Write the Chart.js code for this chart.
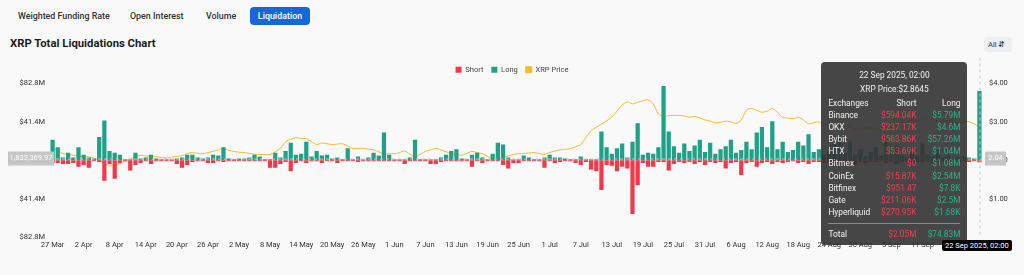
<!DOCTYPE html>
<html>
<head>
<meta charset="utf-8">
<script src="https://cdn.jsdelivr.net/npm/chart.js@4.4.1/dist/chart.umd.min.js"></script>
<style>
  body { margin: 0; background: #f9f9fa; font-family: Roboto, sans-serif; color: #222; width: 1024px; height: 275px; overflow: hidden; position: relative; }
  .tabs { position: absolute; left: 0; top: 7px; height: 18px; }
  .tab { position: absolute; top: 0; height: 18px; line-height: 18px; font-size: 8.9px; font-weight: 500; color: #333; white-space: nowrap; }
  .tab.active { background: #1467d6; color: #fff; border-radius: 4px; text-align: center; }
  h1 { position: absolute; left: 10px; top: 37px; margin: 0; font-size: 11.3px; font-weight: 700; color: #1c1c1c; }
  .sel { position: absolute; left: 984px; top: 37px; width: 28px; height: 15px; background: #eceef1; border-radius: 3px; font-size: 7.5px; line-height: 15px; padding-left: 4px; box-sizing: border-box; color: #333; }
  #wrap { position: absolute; left: 0; top: 58px; width: 1024px; height: 200px; }
  #tip { position: absolute; display: none; width: 146px; box-sizing: border-box; padding: 6px 7px 5px; background: rgba(50,50,50,0.9); border-radius: 4px; color: #f2f2f2; font-size: 8.3px; }
  #tip .hd { text-align: center; line-height: 14px; }
  #tip .grid { display: grid; grid-template-columns: 48px 40px 44px; line-height: 12.1px; margin-top: 1px; }
  #tip .r { text-align: right; }
  #tip .s { color: #f0414f; }
  #tip .l { color: #28b58a; }
  #tip .sep { grid-column: 1 / 4; border-top: 1px solid #8a8a8a; margin: 5px 0 4px; }
  #dateTag { position: absolute; background: #000; color: #fff; font-size: 7.5px; line-height: 11px; padding: 0 3px; border-radius: 2px; white-space: nowrap; }
</style>
</head>
<body>
<div class="tabs">
  <div class="tab" style="left:18px">Weighted Funding Rate</div>
  <div class="tab" style="left:130px">Open Interest</div>
  <div class="tab" style="left:206px">Volume</div>
  <div class="tab active" style="left:250px;width:60px">Liquidation</div>
</div>
<h1>XRP Total Liquidations Chart</h1>
<div class="sel">All &#8693;</div>
<div id="wrap"><canvas id="chart"></canvas><div id="tip"></div><div id="dateTag"></div></div>
<script>
// daily liquidations in $M, first day 27 Mar 2025
const longValues = [
  22, 14, 3, 8, 3, 14, 6, 3, 2, 25, 43, 10, 8, 6, 1, 1, 8, 2, 3, 6,
  2, 1, 1, 1, 2, 3, 6, 6, 3, 2, 3, 6, 5, 14, 2, 1, 2, 2, 3, 6,
  4, 1, 1, 8, 3, 10, 19, 6, 7, 20, 4, 10, 5, 6, 2, 3, 1, 13, 1, 4,
  1, 3, 8, 5, 30, 6, 1, 1, 1, 3, 22, 1, 1, 1, 1, 3, 6, 10, 12, 2,
  1, 6, 8, 3, 1, 7, 19, 17, 3, 1, 1, 5, 3, 1, 1, 3, 6, 3, 3, 2,
  1, 1, 4, 1, 1, 1, 31, 14, 7, 13, 18, 3, 20, 40, 6, 8, 7, 14, 80, 31,
  15, 8, 18, 10, 16, 22, 9, 19, 7, 12, 15, 22, 8, 11, 20, 12, 30, 36, 14, 42,
  12, 20, 9, 11, 20, 16, 28, 9, 12, 6, 10, 18, 24, 8, 20, 6, 12, 4, 9, 14,
  5, 22, 7, 16, 6, 3, 10, 5, 18, 6, 4, 12, 3, 5, 2, 3, 4, 3, 2, 74.83
];
const shortValues = [
  3, 3, 4, 4, 3, 7, 5, 8, 1, 2, 22, 4, 20, 3, 1, 11, 5, 3, 1, 4,
  1, 1, 1, 1, 4, 8, 5, 2, 1, 1, 3, 3, 1, 2, 1, 1, 1, 1, 1, 1,
  1, 1, 8, 8, 4, 2, 12, 3, 1, 3, 1, 1, 3, 1, 1, 3, 1, 1, 1, 2,
  1, 1, 1, 1, 1, 1, 1, 1, 4, 1, 1, 1, 1, 4, 4, 2, 1, 1, 1, 1,
  1, 7, 1, 3, 1, 1, 1, 5, 9, 3, 3, 1, 1, 1, 1, 8, 1, 3, 2, 1,
  1, 3, 5, 2, 10, 12, 32, 5, 6, 12, 7, 9, 58, 27, 3, 7, 7, 2, 2, 11,
  4, 2, 3, 2, 4, 2, 5, 2, 3, 2, 9, 3, 2, 16, 3, 2, 7, 3, 2, 4,
  2, 3, 2, 1, 3, 2, 4, 2, 2, 3, 2, 3, 4, 2, 3, 5, 2, 3, 2, 2,
  1, 3, 2, 4, 2, 1, 3, 2, 2, 1, 3, 2, 1, 2, 1, 2, 1, 2, 1, 2.05
];
const priceValues = [
  2.33, 2.25, 2.17, 2.15, 2.13, 2.11, 2.10, 2.09, 2.05, 2.00, 1.92, 1.85, 1.88, 1.91, 1.98, 2.04, 2.09, 2.13, 2.11, 2.10,
  2.09, 2.07, 2.06, 2.08, 2.10, 2.12, 2.17, 2.20, 2.18, 2.17, 2.20, 2.23, 2.27, 2.31, 2.26, 2.23, 2.21, 2.20, 2.18, 2.16,
  2.15, 2.15, 2.15, 2.22, 2.31, 2.48, 2.55, 2.59, 2.57, 2.56, 2.48, 2.41, 2.45, 2.43, 2.41, 2.42, 2.43, 2.37, 2.31, 2.31,
  2.31, 2.29, 2.27, 2.22, 2.17, 2.17, 2.17, 2.20, 2.24, 2.16, 2.09, 2.16, 2.23, 2.27, 2.31, 2.27, 2.22, 2.17, 2.15, 2.13,
  2.18, 2.23, 2.20, 2.17, 2.10, 2.04, 2.06, 2.07, 2.11, 2.15, 2.17, 2.18, 2.19, 2.20, 2.18, 2.15, 2.20, 2.24, 2.27, 2.29,
  2.30, 2.35, 2.41, 2.59, 2.77, 2.86, 2.94, 3.03, 3.12, 3.28, 3.44, 3.52, 3.47, 3.51, 3.55, 3.57, 3.47, 3.21, 3.15, 3.16,
  3.17, 3.17, 3.15, 3.12, 3.14, 3.10, 3.05, 3.02, 2.97, 2.99, 3.02, 3.00, 2.96, 3.05, 3.30, 3.35, 3.30, 3.25, 3.28, 3.35,
  3.25, 3.12, 3.10, 3.08, 3.12, 3.05, 2.95, 2.98, 3.00, 2.92, 2.98, 3.03, 3.00, 2.95, 2.87, 2.82, 2.80, 2.83, 2.85, 2.82,
  2.80, 2.83, 2.86, 2.89, 2.96, 3.00, 3.05, 3.02, 3.08, 3.10, 3.07, 3.03, 3.01, 3.04, 2.98, 2.96, 3.02, 3.00, 2.95, 2.8645
];
const leftTicks = [-82.8, -41.4, 0, 41.4, 82.8];
const rightTicks = [1, 2, 3, 4];

// exchange breakdown shown in the tooltip for the last day (USD)
const exchangeNames = ['Binance', 'OKX', 'Bybit', 'HTX', 'Bitmex', 'CoinEx', 'Bitfinex', 'Gate', 'Hyperliquid'];
const exchangeShort = [594040, 237170, 563860, 53690, 0, 15870, 951.47, 211060, 270950];
const exchangeLong = [5790000, 4600000, 57260000, 1040000, 1080000, 2540000, 7800, 2500000, 1680];
const crosshairValue = 1.83236997; // $M, horizontal crosshair position

const months = ['Jan', 'Feb', 'Mar', 'Apr', 'May', 'Jun', 'Jul', 'Aug', 'Sep', 'Oct', 'Nov', 'Dec'];
const startDay = Date.UTC(2025, 2, 27);
const dates = longValues.map((_, i) => new Date(startDay + i * 864e5));
const categories = dates.map(d => d.getUTCDate() + ' ' + months[d.getUTCMonth()]);
const lastIndex = categories.length - 1;

function fmtUsd(v) {
    if (v >= 1e6) return '$' + parseFloat((v / 1e6).toFixed(2)) + 'M';
    if (v >= 1e3) return '$' + parseFloat((v / 1e3).toFixed(2)) + 'K';
    return '$' + parseFloat(v.toFixed(2));
}

function tipDate(d) {
    return d.getUTCDate() + ' ' + months[d.getUTCMonth()] + ' ' + d.getUTCFullYear() + ', 02:00';
}

function externalTooltip(context) {
    const { tooltip } = context;
    const el = document.getElementById('tip');
    if (tooltip.opacity === 0) { el.style.display = 'none'; return; }
    const i = tooltip.dataPoints[0].dataIndex;
    let rows = '<div>Exchanges</div><div class="r">Short</div><div class="r">Long</div>';
    exchangeNames.forEach((n, k) => {
        rows += `<div>${n}</div><div class="r s">${fmtUsd(exchangeShort[k])}</div><div class="r l">${fmtUsd(exchangeLong[k])}</div>`;
    });
    rows += '<div class="sep"></div>';
    rows += `<div>Total</div><div class="r s">${fmtUsd(shortValues[i] * 1e6)}</div><div class="r l">${fmtUsd(longValues[i] * 1e6)}</div>`;
    el.innerHTML = `<div class="hd">${tipDate(dates[i])}</div><div class="hd">XRP Price:$${priceValues[i]}</div><div class="grid">${rows}</div>`;
    el.style.display = 'block';
    el.style.left = (tooltip.caretX - el.offsetWidth - 12) + 'px';
    el.style.top = '4px';
}

const crosshair = {
    id: 'crosshair',
    afterDraw(chart) {
        const { ctx, chartArea, scales } = chart;
        const x = scales.x.getPixelForValue(lastIndex);
        const y = scales.y.getPixelForValue(crosshairValue);
        ctx.save();
        ctx.strokeStyle = '#c4c4c4';
        ctx.lineWidth = 1;
        ctx.setLineDash([3, 3]);
        ctx.beginPath();
        ctx.moveTo(x + 0.5, chartArea.top - 26);
        ctx.lineTo(x + 0.5, chartArea.bottom);
        ctx.moveTo(chartArea.left, y + 0.5);
        ctx.lineTo(chartArea.right, y + 0.5);
        ctx.stroke();
        ctx.setLineDash([]);
        ctx.font = '7.5px Roboto';
        ctx.textBaseline = 'middle';
        const leftText = (crosshairValue * 1e6).toLocaleString('en-US', { minimumFractionDigits: 2, maximumFractionDigits: 2 });
        ctx.fillStyle = '#c6c6c6';
        ctx.fillRect(8, y - 7, 46, 14);
        ctx.fillStyle = '#fff';
        ctx.textAlign = 'center';
        ctx.fillText(leftText, 31, y);
        const rightText = scales.y1.getValueForPixel(y).toFixed(2);
        ctx.fillStyle = '#c6c6c6';
        ctx.fillRect(chartArea.right + 3, y - 7, 21, 14);
        ctx.fillStyle = '#fff';
        ctx.fillText(rightText, chartArea.right + 13.5, y);
        ctx.restore();
        const tag = document.getElementById('dateTag');
        tag.textContent = tipDate(dates[lastIndex]);
        const w = tag.offsetWidth;
        tag.style.left = Math.min(x - w / 2, chart.width - 12 - w) + 'px';
        tag.style.top = (chartArea.bottom + 3) + 'px';
    }
};

Chart.defaults.font.family = 'Roboto, sans-serif';
Chart.defaults.color = '#333';

const chart = new Chart(document.getElementById('chart'), {
    type: 'bar',
    data: {
        labels: categories,
        datasets: [
            { label: 'Short', data: shortValues.map(v => -v), backgroundColor: '#f2394a', yAxisID: 'y', barPercentage: 0.82, categoryPercentage: 1 },
            { label: 'Long', data: longValues, backgroundColor: '#1fa187', yAxisID: 'y', barPercentage: 0.82, categoryPercentage: 1 },
            { type: 'line', label: 'XRP Price', data: priceValues, yAxisID: 'y1', borderColor: '#f3bb2c', backgroundColor: '#f3bb2c', borderWidth: 1, pointRadius: 0, tension: 0.3 }
        ]
    },
    options: {
        responsive: true,
        maintainAspectRatio: false,
        animation: false,
        events: [],
        plugins: {
            legend: {
                labels: { boxWidth: 6, boxHeight: 6, padding: 8, font: { size: 7.5 }, color: '#444' }
            },
            tooltip: { enabled: false, external: externalTooltip, mode: 'index', intersect: false }
        },
        scales: {
            x: {
                stacked: true,
                grid: { display: false, drawTicks: false },
                border: { display: false },
                ticks: {
                    autoSkip: false, maxRotation: 0, font: { size: 7.5 }, color: '#333', padding: 4,
                    callback: (v, i) => i % 6 === 0 ? categories[i] : null
                },
                afterFit: s => { s.height = 21; }
            },
            y: {
                stacked: true,
                position: 'left',
                min: -82.8, max: 82.8,
                afterBuildTicks: s => { s.ticks = leftTicks.map(v => ({ value: v })); },
                grid: { display: false, drawTicks: false },
                border: { display: false },
                ticks: {
                    font: { size: 7.5 }, color: '#333', padding: 5,
                    callback: v => v === 0 ? '$0' : '$' + Math.abs(v).toFixed(1) + 'M'
                },
                afterFit: s => { s.width = 50; }
            },
            y1: {
                position: 'right',
                min: 0, max: 4,
                afterBuildTicks: s => { s.ticks = rightTicks.map(v => ({ value: v })); },
                grid: { display: false, drawTicks: false },
                border: { display: false },
                ticks: { font: { size: 7.5 }, color: '#333', padding: 7, callback: v => '$' + v.toFixed(2) },
                afterFit: s => { s.width = 42; }
            }
        }
    },
    plugins: [crosshair]
});

const px = chart.scales.x.getPixelForValue(lastIndex);
chart.tooltip.setActiveElements([{ datasetIndex: 0, index: lastIndex }, { datasetIndex: 1, index: lastIndex }], { x: px, y: chart.chartArea.top });
chart.update();
</script>
</body>
</html>
